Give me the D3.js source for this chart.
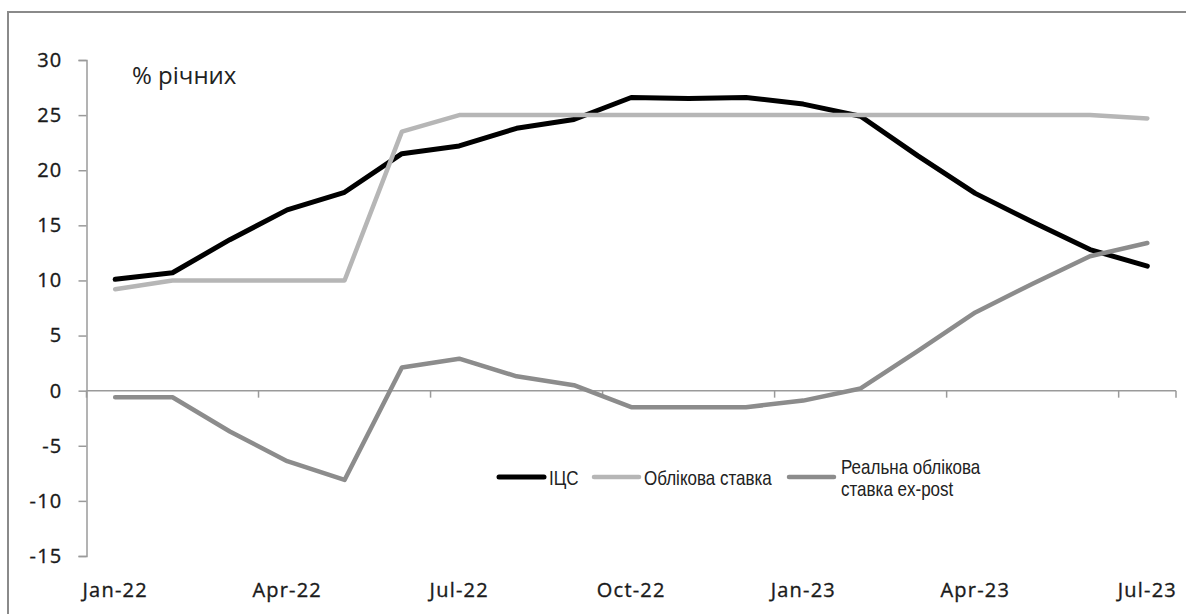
<!DOCTYPE html>
<html>
<head>
<meta charset="utf-8">
<script src="https://cdn.jsdelivr.net/npm/d3@7"></script>
<style>
  html, body { margin: 0; padding: 0; background: #fff; }
  svg { display: block; }
  .tick-label { font-family: "Open Sans", sans-serif; font-size: 20px; fill: #1a1a1a; stroke: #1a1a1a; stroke-width: 0.35px; letter-spacing: 1.2px; }
  .legend-text { font-family: "Liberation Sans", "Arial", sans-serif; font-size: 21px; fill: #222; }
</style>
</head>
<body>
<svg id="chart" width="1186" height="614"></svg>
<script>
// Months on the category axis
const months = ["Jan-22","Feb-22","Mar-22","Apr-22","May-22","Jun-22","Jul-22","Aug-22","Sep-22",
                "Oct-22","Nov-22","Dec-22","Jan-23","Feb-23","Mar-23","Apr-23","May-23","Jun-23","Jul-23"];

// Consumer price index, % y/y
const cpi = [10.1, 10.7, 13.7, 16.4, 18.0, 21.5, 22.2, 23.8, 24.6, 26.6, 26.5, 26.6, 26.0, 24.9, 21.3, 17.9, 15.3, 12.8, 11.3];
// Key policy rate
const policyRate = [9.2, 10.0, 10.0, 10.0, 10.0, 23.5, 25.0, 25.0, 25.0, 25.0, 25.0, 25.0, 25.0, 25.0, 25.0, 25.0, 25.0, 25.0, 24.7];
// Real policy rate, ex-post
const realRate = [-0.6, -0.6, -3.7, -6.4, -8.1, 2.1, 2.9, 1.3, 0.5, -1.5, -1.5, -1.5, -0.9, 0.2, 3.6, 7.1, 9.7, 12.2, 13.4];

const yTicks = [-15, -10, -5, 0, 5, 10, 15, 20, 25, 30];
const xTickLabels = ["Jan-22","Apr-22","Jul-22","Oct-22","Jan-23","Apr-23","Jul-23"];

const unitLabel = "% річних";
const seriesNames = ["ІЦС", "Облікова ставка", ["Реальна облікова", "ставка ex-post"]];
const seriesColors = ["#000000", "#b6b6b6", "#8c8c8c"];
const seriesWidths = [5, 4.5, 4.5];

const svg = d3.select("#chart");

// Outer frame
svg.append("rect")
  .attr("x", 8).attr("y", 12)
  .attr("width", 1190).attr("height", 620)
  .attr("fill", "none")
  .attr("stroke", "#8a8a8a")
  .attr("stroke-width", 2);

const x = d3.scaleBand().domain(months).range([86.5, 1176]).paddingInner(0).paddingOuter(0);
const y = d3.scaleLinear().domain([-15, 30]).range([556, 60]);
const cx = m => x(m) + x.bandwidth() / 2;

// Y axis (plain hyphen for negatives)
const yAxis = d3.axisLeft(y).tickValues(yTicks).tickSize(8).tickPadding(16).tickFormat(d => String(d));
const gy = svg.append("g").attr("transform", "translate(86.5,0)").call(yAxis);
gy.select(".domain").attr("stroke", "#9a9a9a").attr("stroke-width", 1.5);
gy.selectAll(".tick line").attr("stroke", "#9a9a9a").attr("stroke-width", 1.5);
gy.selectAll(".tick text").attr("class", "tick-label").attr("font-size", null).attr("font-family", null).attr("fill", null);

// X axis line at zero with boundary ticks every quarter
const gx = svg.append("g");
gx.append("line")
  .attr("x1", 86.5).attr("x2", 1176)
  .attr("y1", y(0)).attr("y2", y(0))
  .attr("stroke", "#9a9a9a").attr("stroke-width", 1.5);
const boundaryIdx = d3.range(0, months.length + 1, 3).concat([months.length]);
gx.selectAll("line.xt")
  .data(boundaryIdx)
  .join("line")
  .attr("class", "xt")
  .attr("x1", i => x.range()[0] + i * x.step())
  .attr("x2", i => x.range()[0] + i * x.step())
  .attr("y1", y(0)).attr("y2", y(0) + 7)
  .attr("stroke", "#9a9a9a").attr("stroke-width", 1.5);

// X tick labels along the bottom
svg.append("g").selectAll("text")
  .data(xTickLabels)
  .join("text")
  .attr("class", "tick-label")
  .attr("x", d => cx(d))
  .attr("y", 597)
  .attr("text-anchor", "middle")
  .text(d => d);

// Unit caption
svg.append("text")
  .attr("x", 132).attr("y", 84)
  .attr("font-family", "Open Sans, sans-serif")
  .attr("font-size", 24)
  .attr("fill", "#222")
  .text(unitLabel);

// Series lines
const line = d3.line().x((d, i) => cx(months[i])).y(d => y(d));
[cpi, policyRate, realRate].forEach((vals, k) => {
  svg.append("path")
    .datum(vals)
    .attr("d", line)
    .attr("fill", "none")
    .attr("stroke", seriesColors[k])
    .attr("stroke-width", seriesWidths[k])
    .attr("stroke-linejoin", "round")
    .attr("stroke-linecap", "round");
});

// Legend (text condensed horizontally)
const legendY = 477;
const legendItems = [
  { x0: 499, x1: 544, tx: 549 },
  { x0: 594, x1: 639, tx: 644 },
  { x0: 789, x1: 834, tx: 841 }
];
const condense = 0.81;
legendItems.forEach((it, k) => {
  svg.append("line")
    .attr("x1", it.x0).attr("x2", it.x1)
    .attr("y1", legendY).attr("y2", legendY)
    .attr("stroke", seriesColors[k])
    .attr("stroke-width", seriesWidths[k])
    .attr("stroke-linecap", "round");
  const name = seriesNames[k];
  const g = svg.append("g").attr("transform", `translate(${it.tx},0) scale(${condense},1)`);
  const t = g.append("text").attr("class", "legend-text").attr("x", 0);
  if (Array.isArray(name)) {
    t.attr("y", 474);
    name.forEach((s, j) => {
      t.append("tspan").attr("x", 0).attr("dy", j === 0 ? 0 : 22).text(s);
    });
  } else {
    t.attr("y", 485).text(name);
  }
});
</script>
</body>
</html>
